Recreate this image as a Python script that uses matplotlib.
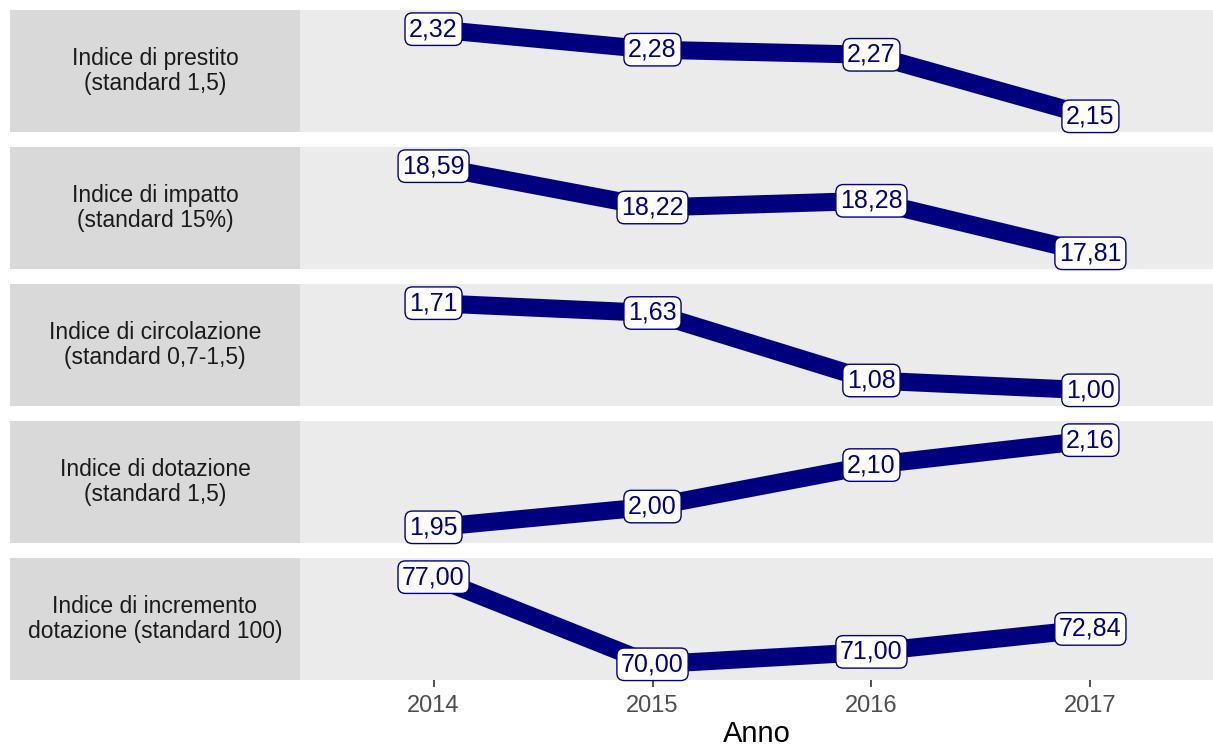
import matplotlib
matplotlib.use("Agg")
import matplotlib.pyplot as plt

plt.rcParams["font.family"] = ["Liberation Sans", "DejaVu Sans"]

years = [2014, 2015, 2016, 2017]
indici = [
    "Indice di prestito\n(standard 1,5)",
    "Indice di impatto\n(standard 15%)",
    "Indice di circolazione\n(standard 0,7-1,5)",
    "Indice di dotazione\n(standard 1,5)",
    "Indice di incremento\ndotazione (standard 100)",
]
prestito = [2.32, 2.28, 2.27, 2.15]
impatto = [18.59, 18.22, 18.28, 17.81]
circolazione = [1.71, 1.63, 1.08, 1.00]
dotazione = [1.95, 2.00, 2.10, 2.16]
incremento = [77.00, 70.00, 71.00, 72.84]
serie = [prestito, impatto, circolazione, dotazione, incremento]

W, H = 1213, 753
fig = plt.figure(figsize=(W / 100, H / 100), dpi=100)

NAVY = "#00007f"
row_tops = [10, 147, 284, 421, 558]
row_h = 122
strip_x0, strip_x1 = 10, 300
panel_x1 = 1213

for i, (label, vals) in enumerate(zip(indici, serie)):
    top = row_tops[i]
    bottom = 1 - (top + row_h) / H
    # strip
    sax = fig.add_axes([strip_x0 / W, bottom, (strip_x1 - strip_x0) / W, row_h / H])
    sax.set_facecolor("#d9d9d9")
    sax.set_xticks([])
    sax.set_yticks([])
    for s in sax.spines.values():
        s.set_visible(False)
    sax.text(0.5, 0.5, label, ha="center", va="center", fontsize=16.5,
             color="#1a1a1a", transform=sax.transAxes, linespacing=1.1)

    # panel
    ax = fig.add_axes([strip_x1 / W, bottom, (panel_x1 - strip_x1) / W, row_h / H])
    ax.set_facecolor("#ebebeb")
    for s in ax.spines.values():
        s.set_visible(False)
    ax.plot(years, vals, color=NAVY, lw=13, solid_capstyle="butt",
            solid_joinstyle="miter", zorder=2)
    for x, v in zip(years, vals):
        ax.text(x, v, f"{v:.2f}".replace(".", ","), ha="center", va="center",
                fontsize=18, color=NAVY, zorder=3,
                bbox=dict(boxstyle="round,pad=0.17,rounding_size=0.3",
                          fc="white", ec=NAVY, lw=1))
    lo, hi = min(vals), max(vals)
    rng = hi - lo
    ax.set_ylim(lo - 0.18 * rng, hi + 0.22 * rng)
    ax.set_xlim(2013.39, 2017.56)
    ax.set_yticks([])
    ax.set_xticks(years)
    if i < len(indici) - 1:
        ax.tick_params(axis="x", length=0, labelbottom=False)
    else:
        ax.tick_params(axis="x", length=5, width=1.2, color="#333333",
                       labelsize=17, labelcolor="#4d4d4d", pad=6)
        ax.set_xlabel("Anno", fontsize=21, color="black", labelpad=2)

fig.savefig("out.png", dpi=100)
